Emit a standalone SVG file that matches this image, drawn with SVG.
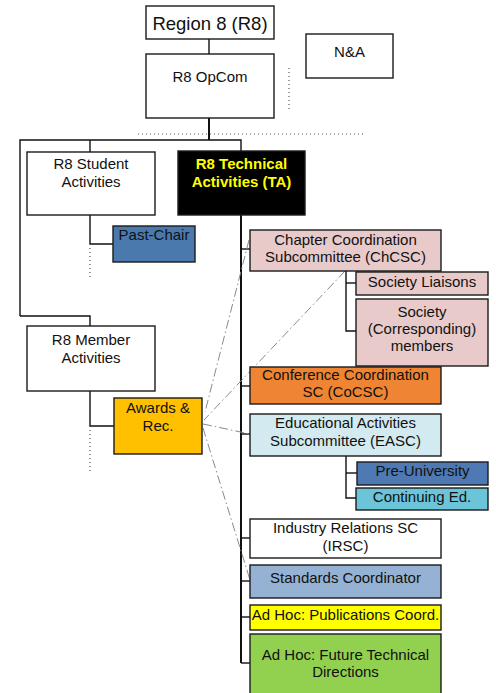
<svg xmlns="http://www.w3.org/2000/svg" width="496" height="693" viewBox="0 0 496 693">
<style>
.b{stroke:#1a1a1a;stroke-width:1.4}
.t{font-family:"Liberation Sans",Arial,sans-serif;font-size:15px;fill:#111;text-anchor:middle}
.tb{font-family:"Liberation Sans",Arial,sans-serif;font-size:15px;font-weight:bold;fill:#ffff00;text-anchor:middle}
.c{fill:none;stroke:#111;stroke-width:1.4}
.ck{fill:none;stroke:#111;stroke-width:2}
.d{fill:none;stroke:#555;stroke-width:1.2;stroke-dasharray:1,3}
.dd{fill:none;stroke:#8a8a8a;stroke-width:1;stroke-dasharray:9,3,1.5,3}
</style>
<rect width="496" height="693" fill="#fff"/>
<g id="connectors">
<line class="c" x1="209" y1="39" x2="209" y2="54"/>
<line class="ck" x1="209" y1="118" x2="209" y2="140"/>
<polyline class="c" points="20,316 20,140 241,140 241,151"/>
<line class="c" x1="90" y1="140" x2="90" y2="152"/>
<polyline class="c" points="20,316 90,316 90,326"/>
<polyline class="c" points="90,215 90,244 113,244"/>
<polyline class="c" points="90,391 90,426 114,426"/>
<line class="d" x1="90" y1="248" x2="90" y2="280"/>
<line class="d" x1="90" y1="430" x2="90" y2="472"/>
<line class="d" x1="289" y1="68" x2="289" y2="112"/>
<line class="d" x1="138" y1="134" x2="364" y2="134"/>
<line class="ck" x1="241" y1="215" x2="241" y2="663"/>
<line class="c" x1="241" y1="249" x2="250" y2="249"/>
<line class="c" x1="241" y1="386" x2="250" y2="386"/>
<line class="c" x1="241" y1="434" x2="250" y2="434"/>
<line class="c" x1="241" y1="538" x2="250" y2="538"/>
<line class="c" x1="241" y1="581" x2="250" y2="581"/>
<line class="c" x1="241" y1="617" x2="250" y2="617"/>
<line class="c" x1="241" y1="663" x2="250" y2="663"/>
<polyline class="c" points="346,271 346,331 356,331"/>
<line class="c" x1="346" y1="283" x2="356" y2="283"/>
<polyline class="c" points="346,456 346,498 356,498"/>
<line class="c" x1="346" y1="473" x2="357" y2="473"/>
<line class="dd" x1="345" y1="271" x2="204" y2="420"/>
<line class="dd" x1="249" y1="240" x2="205" y2="412"/>
<line class="dd" x1="203" y1="424" x2="250" y2="434"/>
<line class="dd" x1="203" y1="428" x2="250" y2="580"/>
</g>
<g id="region8"><rect class="b" x="146" y="6" width="128" height="33" fill="#fff"/><text class="t" x="210" y="30" style="font-size:18.5px">Region 8 (R8)</text></g>
<g id="opcom"><rect class="b" x="146" y="54" width="128" height="64" fill="#fff"/><text class="t" x="210" y="82">R8 OpCom</text></g>
<g id="na"><rect class="b" x="306" y="34" width="87" height="44" fill="#fff"/><text class="t" x="349.5" y="57">N&amp;A</text></g>
<g id="student"><rect class="b" x="27" y="152" width="128" height="63" fill="#fff"/><text class="t" x="91" y="169">R8 Student</text><text class="t" x="91" y="187">Activities</text></g>
<g id="pastchair"><rect class="b" x="113" y="226" width="82" height="36" fill="#4a79ae"/><text class="t" x="154" y="240">Past-Chair</text></g>
<g id="ta"><rect class="b" x="178" y="151" width="127" height="64" fill="#000"/><text class="tb" x="241.5" y="169">R8 Technical</text><text class="tb" x="241.5" y="187">Activities (TA)</text></g>
<g id="member"><rect class="b" x="27" y="326" width="128" height="65" fill="#fff"/><text class="t" x="91" y="345">R8 Member</text><text class="t" x="91" y="363">Activities</text></g>
<g id="awards"><rect class="b" x="114" y="398" width="88" height="56" fill="#ffc000"/><text class="t" x="158" y="413">Awards &amp;</text><text class="t" x="158" y="431">Rec.</text></g>
<g id="chcsc"><rect class="b" x="250" y="230" width="191" height="41" fill="#e8caca"/><text class="t" x="345.5" y="245">Chapter Coordination</text><text class="t" x="345.5" y="262">Subcommittee (ChCSC)</text></g>
<g id="liaisons"><rect class="b" x="356" y="272" width="132" height="23" fill="#e8caca"/><text class="t" x="422" y="287">Society Liaisons</text></g>
<g id="corresponding"><rect class="b" x="356" y="299" width="132" height="67" fill="#e8caca"/><text class="t" x="422" y="317">Society</text><text class="t" x="422" y="334">(Corresponding)</text><text class="t" x="422" y="351">members</text></g>
<g id="cocsc"><rect class="b" x="250" y="367" width="191" height="37" fill="#ef8432"/><text class="t" x="345.5" y="380">Conference Coordination</text><text class="t" x="345.5" y="397">SC (CoCSC)</text></g>
<g id="easc"><rect class="b" x="250" y="414" width="191" height="42" fill="#d3ebf0"/><text class="t" x="345.5" y="428">Educational Activities</text><text class="t" x="345.5" y="446">Subcommittee (EASC)</text></g>
<g id="preuni"><rect class="b" x="357" y="462" width="131" height="23" fill="#4e79b2"/><text class="t" x="422.5" y="476">Pre-University</text></g>
<g id="contedu"><rect class="b" x="356" y="488" width="132" height="22" fill="#6cc4d8"/><text class="t" x="422" y="502">Continuing Ed.</text></g>
<g id="irsc"><rect class="b" x="250" y="519" width="191" height="39" fill="#fff"/><text class="t" x="345.5" y="533">Industry Relations SC</text><text class="t" x="345.5" y="551">(IRSC)</text></g>
<g id="standards"><rect class="b" x="250" y="565" width="191" height="33" fill="#95b1d4"/><text class="t" x="345.5" y="583">Standards Coordinator</text></g>
<g id="publications"><rect class="b" x="250" y="605" width="191" height="25" fill="#ffff00"/><text class="t" x="345.5" y="620">Ad Hoc: Publications Coord.</text></g>
<g id="future"><rect class="b" x="250" y="634" width="191" height="62" fill="#92d050"/><text class="t" x="345.5" y="660">Ad Hoc: Future Technical</text><text class="t" x="345.5" y="677">Directions</text></g>
</svg>
